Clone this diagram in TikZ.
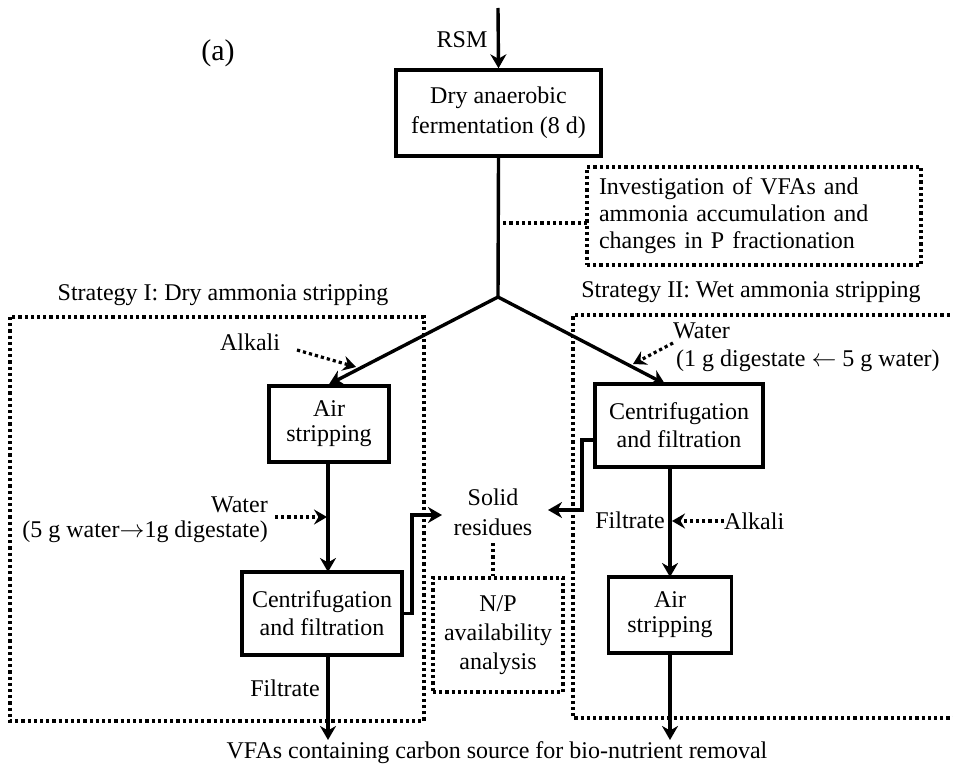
\documentclass[tikz,border=0pt]{standalone}
\usepackage{fontspec}
\setmainfont{Liberation Serif}
\usetikzlibrary{arrows.meta,calc}
\begin{document}
\begin{tikzpicture}[x=1pt,y=-1pt,
  every node/.style={font=\fontsize{24}{27}\selectfont, inner sep=0pt, align=center},
  box/.style={draw, line width=3.4pt},
  dotbox/.style={draw, line width=3.2pt, dash pattern=on 3.2pt off 3pt},
  solidline/.style={line width=3.4pt},
  flow/.style={line width=3.4pt, -{Stealth[length=14pt,width=16pt,inset=4.5pt]}},
  dotline/.style={line width=3.2pt, dash pattern=on 3.2pt off 3pt},
  dotflow/.style={dotline, -{Stealth[length=13pt,width=15pt,inset=4.5pt]}}]
\useasboundingbox (0,0) rectangle (953,770);

% labels
\node (lbla) at (218,53) {\fontsize{30}{32}\selectfont (a)};
\node (rsm) at (462,40) {RSM};

% main process
\node[box, minimum width=205pt, minimum height=86pt, font=\fontsize{24}{30}\selectfont] (main) at (498.5,113) {Dry anaerobic\\fermentation (8 d)};
\coordinate (rsmtop) at (498,8);
\draw[flow] (rsmtop) -- (main.north);

\node[dotbox, minimum width=334pt, minimum height=98pt, text width=310pt, align=left] (inv) at (754,216) {Investigation of VFAs and\\ammonia accumulation and\\changes in P fractionation};

\coordinate (J) at (498,297);
\draw[solidline] (main.south) -- (J);
\coordinate (invl) at (587,223);
\draw[dotline] (invl) -- (invl -| J);

% strategy frames
\node (s1) at (223,295) {Strategy I: Dry ammonia stripping};
\node (s2) at (751,292) {Strategy II: Wet ammonia stripping};
\draw[dotline] (10,317) rectangle (424,721);
\draw[dotline] (956,315) -- (573,315) -- (573,718) -- (956,718);

% Strategy I
\node[box, minimum width=120pt, minimum height=76pt, font=\fontsize{24}{25}\selectfont] (lair) at (329,424) {Air\\stripping};
\node[box, minimum width=160pt, minimum height=83pt, font=\fontsize{24}{28}\selectfont] (lcf) at (322,613.5) {Centrifugation\\and filtration};
\draw[flow] (J) -- (lair.north);
\node (alk1) at (250,342) {Alkali};
\coordinate (alk1s) at (297,350);
\coordinate (alk1e) at (356,367);
\draw[dotflow] (alk1s) -- (alk1e);
\coordinate (lcfin) at (328,572);
\draw[flow] (lcfin |- lair.south) -- (lcfin);
\node[anchor=east, align=right, font=\fontsize{24}{25}\selectfont] (wat1) at (268,520) {Water\\(5 g water$\rightarrow$1g digestate)};
\coordinate (wat1s) at (275,517);
\coordinate (wat1e) at (327,517);
\draw[dotflow] (wat1s) -- (wat1e);
\node (filt1) at (285,688) {Filtrate};
\coordinate (out1) at (328,740);
\draw[flow] (out1 |- lcf.south) -- (out1);

% solid residues
\node[font=\fontsize{24}{30}\selectfont] (solid) at (493,512) {Solid\\residues};
\coordinate (sol1) at (442,515);
\coordinate (sol2) at (548,510);
\draw[flow] (lcf.east) -| (412,515) -- (sol1);
\node[dotbox, minimum width=130pt, minimum height=114pt, font=\fontsize{24}{29}\selectfont] (np) at (498,635) {N/P\\availability\\analysis};
\coordinate (soltop) at (493,543);
\draw[dotline] (soltop) -- (soltop |- np.north);

% Strategy II
\node[box, minimum width=168pt, minimum height=83pt, font=\fontsize{24}{28}\selectfont] (rcf) at (679,425.5) {Centrifugation\\and filtration};
\node[box, minimum width=123pt, minimum height=76pt, font=\fontsize{24}{25}\selectfont] (rair) at (670,615) {Air\\stripping};
\coordinate (rcfin) at (665,384);
\draw[flow] (J) -- (rcfin);
\node[anchor=north west, align=left, font=\fontsize{24}{28}\selectfont] (wat2) at (673,323) {Water\\\hspace*{3pt}(1 g digestate $\leftarrow$ 5 g water)};
\coordinate (wat2s) at (673,343);
\coordinate (wat2e) at (633,364);
\draw[dotflow] (wat2s) -- (wat2e);
\coordinate (rcfout) at (595,440);
\draw[flow] (rcfout) -- (582,440) -- (582,510) -- (sol2);
\coordinate (rairin) at (670,577);
\draw[flow] (rairin |- rcf.south) -- (rairin);
\node (filt2) at (630,520) {Filtrate};
\node[anchor=west] (alk2) at (724,521) {Alkali};
\coordinate (alk2s) at (724,521);
\coordinate (alk2e) at (672,521);
\draw[dotflow] (alk2s) -- (alk2e);
\coordinate (out2) at (670,740);
\draw[flow] (rair.south) -- (out2);

% output
\node (vfa) at (497,753) {VFAs containing carbon source for bio-nutrient removal};
\end{tikzpicture}
\end{document}
